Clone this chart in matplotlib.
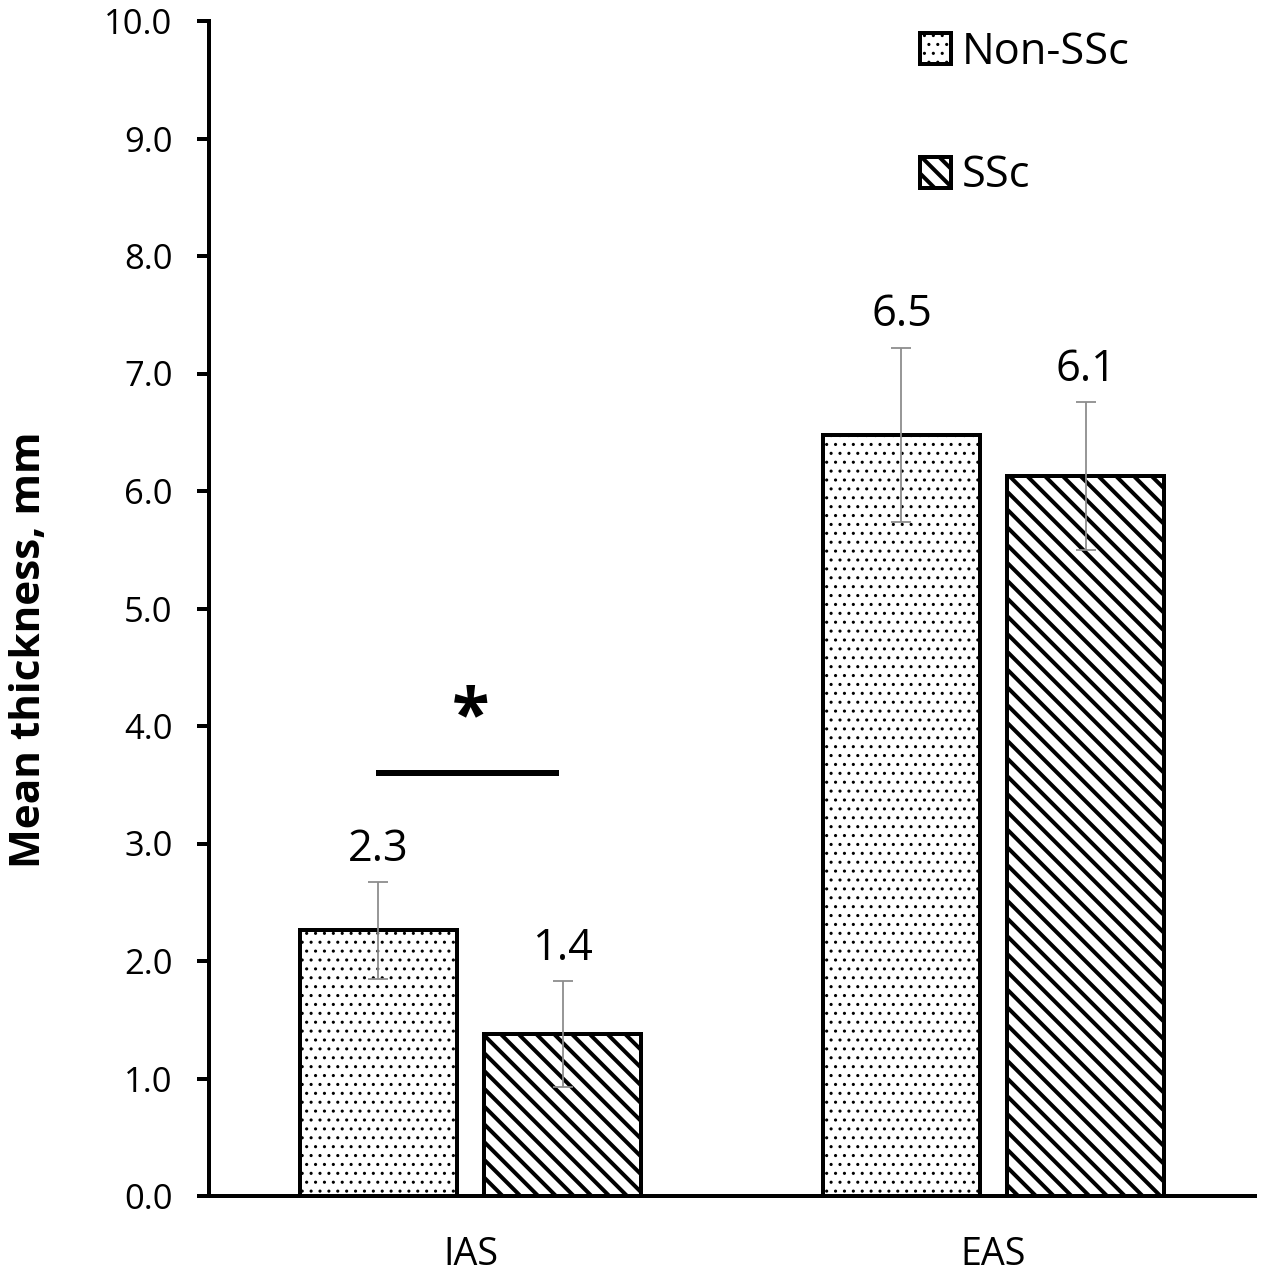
import matplotlib
matplotlib.use("Agg")
import matplotlib.pyplot as plt
import numpy as np

# values
categories = ["IAS", "EAS"]
groups = ["Non-SSc", "SSc"]
non_ssc_mean = [2.26, 6.48]
non_ssc_err = [0.41, 0.74]
ssc_mean = [1.38, 6.13]
ssc_err = [0.45, 0.63]
yticks = np.arange(0, 10.01, 1.0)
sig_y = 3.6  # significance bar over IAS

plt.rcParams["font.family"] = ["Open Sans", "DejaVu Sans"]
plt.rcParams["hatch.linewidth"] = 1.8

DOT_LW = 0.6
STRIPE_LW = 1.8
DOT_HATCH = "..."
STRIPE_HATCH = chr(92) * 3  # backslashes: dense down-right stripes

DPI = 160
fig = plt.figure(figsize=(1263 / DPI, 1280 / DPI), dpi=DPI)
ax = fig.add_axes([209 / 1263, 84 / 1280, 1046 / 1263, 1175 / 1280])

x = np.arange(len(categories))
width = 0.30
offset = 0.176
err_kw = dict(ecolor="#8c8c8c", elinewidth=0.8, capsize=4.5, capthick=0.8, zorder=3)

with plt.rc_context({"hatch.linewidth": DOT_LW}):
    bars_non = ax.bar(x - offset, non_ssc_mean, width, yerr=non_ssc_err, color="white",
                      edgecolor="black", linewidth=1.8, hatch=DOT_HATCH, label=groups[0],
                      error_kw=err_kw)
bars_ssc = ax.bar(x + offset, ssc_mean, width, yerr=ssc_err, color="white",
                  edgecolor="black", linewidth=1.8, hatch=STRIPE_HATCH, label=groups[1],
                  error_kw=err_kw)


def set_hlw(patches, lw):
    for p in patches:
        if hasattr(p, "set_hatch_linewidth"):
            p.set_hatch_linewidth(lw)


set_hlw(bars_non, DOT_LW)
set_hlw(bars_ssc, STRIPE_LW)

for xs, means, errs in [(x - offset, non_ssc_mean, non_ssc_err), (x + offset, ssc_mean, ssc_err)]:
    for xi, m, e in zip(xs, means, errs):
        ax.text(xi, m + e + 0.18, f"{m:.1f}", ha="center", va="baseline", fontsize=19.5)

ax.plot([-0.18, 0.17], [sig_y, sig_y], color="black", lw=2.7, solid_capstyle="butt")
ax.text(0, sig_y + 0.3, "*", ha="center", va="baseline", fontsize=31, fontweight="bold")

ax.set_xlim(-0.5, 1.5)
ax.set_ylim(0, 10)
ax.set_xticks(x, categories)
ax.set_yticks(yticks, [f"{t:.1f}" for t in yticks])
ax.tick_params(axis="x", length=0, pad=18, labelsize=17)
ax.tick_params(axis="y", length=5.4, width=1.8, pad=11, labelsize=15.5)
for s in ["top", "right"]:
    ax.spines[s].set_visible(False)
for s in ["left", "bottom"]:
    ax.spines[s].set_linewidth(1.8)

fig.text(30 / 1263, 1 - 650 / 1280, "Mean thickness, mm", rotation=90,
         ha="center", va="center", fontsize=19, fontweight="bold")

leg = ax.legend(loc="upper left", bbox_to_anchor=(920 / 1263, 1 - 30 / 1280),
                bbox_transform=fig.transFigure, frameon=False, fontsize=19.5,
                handlelength=0.72, handleheight=0.72, handletextpad=0.25,
                labelspacing=1.83, borderpad=0, borderaxespad=0)
leg_patches = leg.get_patches()
set_hlw(leg_patches[:1], DOT_LW)
set_hlw(leg_patches[1:], STRIPE_LW)

fig.savefig("out.png", dpi=DPI)
